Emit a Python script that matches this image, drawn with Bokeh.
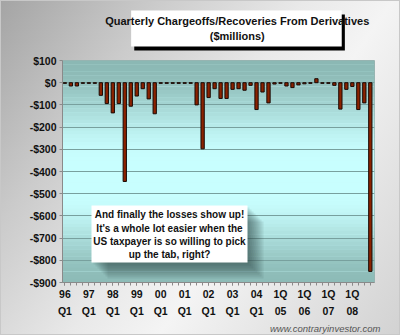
from bokeh.plotting import figure
from bokeh.layouts import column
from bokeh.models import BoxAnnotation, Label, FixedTicker, Range1d, Title
from bokeh.core.properties import value
from bokeh.embed import file_html
from bokeh.resources import INLINE

# ---- data ----
quarters = list(range(52))  # 1996 Q1 .. 2008 Q4
chargeoffs = [-3, -15, -15, -3,
              -3, -3, -57, -94,
              -136, -94, -445, -106,
              -60, -27, -73, -140,
              -3, -3, -3, -3,
              -3, -3, -100, -298,
              -67, -27, -71, -71,
              -30, -27, -34, -12,
              -121, -42, -91, -6,
              -3, -15, -22, -10,
              -5, -3, 18, -3,
              -3, -12, -119, -30,
              -17, -121, -91, -850]
x_tick_pos = [0, 4, 8, 12, 16, 20, 24, 28, 32, 36, 40, 44, 48]
x_tick_labels = ["96\nQ1", "97\nQ1", "98\nQ1", "99\nQ1", "00\nQ1", "01\nQ1",
                 "02\nQ1", "03\nQ1", "04\nQ1", "1Q\n05", "1Q\n06", "1Q\n07", "1Q\n08"]
y_ticks = [100, 0, -100, -200, -300, -400, -500, -600, -700, -800, -900]
y_tick_labels = ["$100", "$0", "-$100", "-$200", "-$300", "-$400", "-$500",
                 "-$600", "-$700", "-$800", "-$900"]
title_lines = ["Quarterly Chargeoffs/Recoveries From Derivatives", "($millions)"]
note_lines = ["And finally the losses show up!",
              "It's a whole lot easier when the",
              "US taxpayer is so willing to pick",
              "up the tab, right?"]
credit = "www.contraryinvestor.com"

W, H = 400, 335
TH = 52          # height of the title strip
FONT = "Liberation Sans"

def hexc(r, g, b):
    return "#%02x%02x%02x" % (int(round(r)), int(round(g)), int(round(b)))

# ---------------- title strip ----------------
tf = figure(width=W, height=TH, x_range=Range1d(0, W), y_range=Range1d(TH, 0),
            output_backend="svg", toolbar_location=None, title=None,
            x_axis_location=None, y_axis_location=None,
            min_border=0, min_border_left=0, min_border_right=0,
            min_border_top=0, min_border_bottom=0)
tf.grid.visible = False
tf.outline_line_color = None
tf.background_fill_alpha = 0
tf.border_fill_alpha = 0
tf.quad(left=[92], right=[362], top=[14], bottom=[50], fill_color="black", line_color=None)
tf.quad(left=[88], right=[358], top=[10], bottom=[46], fill_color="white", line_color=None)
tf.text(x=[224, 224], y=[20, 35], text=title_lines, text_align="center",
        text_baseline="middle", text_font=value(FONT), text_font_style="bold",
        text_font_size="11px", text_color="#111111")

# ---------------- main chart ----------------
p = figure(width=W, height=H - TH, x_range=Range1d(-0.4, 51.7), y_range=Range1d(-900, 100),
           output_backend="svg", toolbar_location=None, title=None,
           min_border_left=62, min_border_right=26, min_border_top=60 - TH,
           min_border_bottom=52)
p.border_fill_alpha = 0
p.background_fill_color = "#c8fcfc"
p.outline_line_color = "#9ab3b1"

# plot area vertical gradient teal -> cyan -> teal
teal_top = (139, 184, 180)
cyan = (200, 254, 254)
teal_bot = (141, 187, 183)
nbands = 60
for k in range(nbands):
    t0 = k / nbands
    t1 = (k + 1) / nbands
    t = (t0 + t1) / 2
    if t < 0.45:
        f = t / 0.45
        f = f * f * (3 - 2 * f)
        c = [teal_top[m] + (cyan[m] - teal_top[m]) * f for m in range(3)]
    elif t < 0.6:
        c = list(cyan)
    else:
        f = (t - 0.6) / 0.4
        f = f * f * (3 - 2 * f)
        c = [cyan[m] + (teal_bot[m] - cyan[m]) * f for m in range(3)]
    p.add_layout(BoxAnnotation(top=100 - 1000 * t0, bottom=100 - 1000 * t1 - 1,
                               fill_color=hexc(*c), fill_alpha=1, line_color=None,
                               level="image"))

# grid
p.xgrid.visible = False
p.ygrid.ticker = FixedTicker(ticks=y_ticks)
p.ygrid.grid_line_color = "#78a09e"
p.ygrid.grid_line_width = 1
p.ygrid.level = "underlay"

# bars
p.vbar(x=quarters, top=chargeoffs, bottom=0, width=0.55,
       fill_color="#8b2200", line_color="#1a0a05", line_width=1)

# axes
xa = p.xaxis[0]
xa.ticker = FixedTicker(ticks=x_tick_pos, minor_ticks=quarters)
xa.major_label_overrides = {pos: lab for pos, lab in zip(x_tick_pos, x_tick_labels)}
xa.major_label_text_font = FONT
xa.major_label_text_font_style = "bold"
xa.major_label_text_font_size = "10.5px"
xa.major_label_text_line_height = 1.45
xa.major_label_text_color = "#111111"
xa.major_label_standoff = 2
xa.axis_line_color = "#8a8a8a"
xa.major_tick_line_color = "#8a8a8a"
xa.minor_tick_line_color = "#8a8a8a"
xa.major_tick_in = 0
xa.major_tick_out = 3
xa.minor_tick_in = 0
xa.minor_tick_out = 3

ya = p.yaxis[0]
ya.ticker = FixedTicker(ticks=y_ticks)
ya.major_label_overrides = {v: lab for v, lab in zip(y_ticks, y_tick_labels)}
ya.major_label_text_font = FONT
ya.major_label_text_font_style = "bold"
ya.major_label_text_font_size = "10.5px"
ya.major_label_text_color = "#111111"
ya.major_label_standoff = 3
ya.axis_line_color = "#8a8a8a"
ya.major_tick_line_color = "#8a8a8a"
ya.major_tick_in = 0
ya.major_tick_out = 3
ya.minor_tick_line_color = None

# credit line below the axis
p.add_layout(Title(text=credit, align="right", text_font=FONT, text_font_style="italic",
                   text_font_size="9.5px", text_color="#555555", standoff=3, offset=-6),
             "below")

def cbox(l, r, t, b, color, alpha=1.0):
    return BoxAnnotation(left=l, right=r, top=t - TH, bottom=b - TH,
                         left_units="canvas", right_units="canvas",
                         top_units="canvas", bottom_units="canvas",
                         fill_color=color, fill_alpha=alpha, line_color=None,
                         level="annotation")

# note box with soft shadow (inside the frame, above the bars)
for s in range(1, 9):
    p.add_layout(cbox(91 + 2 * s, 247 + 2 * s, 205 + 2 * s, 262 + 2 * s, "#1e3432", alpha=0.09))
p.add_layout(cbox(91, 247, 205, 262, "white"))
for txt, yy in zip(note_lines, [214, 227.5, 241, 254]):
    p.add_layout(Label(x=169, y=yy - TH, x_units="canvas", y_units="canvas", text=txt,
                       text_align="center", text_baseline="middle",
                       text_font=FONT, text_font_style="bold", text_font_size="10px",
                       text_color="#111111", level="annotation"))

layout = column(tf, p, spacing=0,
                styles={"background": "linear-gradient(125deg, #a4a4a4 0%, #cbcbcb 25%, "
                                      "#e9e9e9 48%, #f4f4f4 62%, #d2d2d2 100%)",
                        "box-shadow": "inset 0 0 0 1px #c8c8c8"})

open("out.html", "w").write(file_html(layout, INLINE))
